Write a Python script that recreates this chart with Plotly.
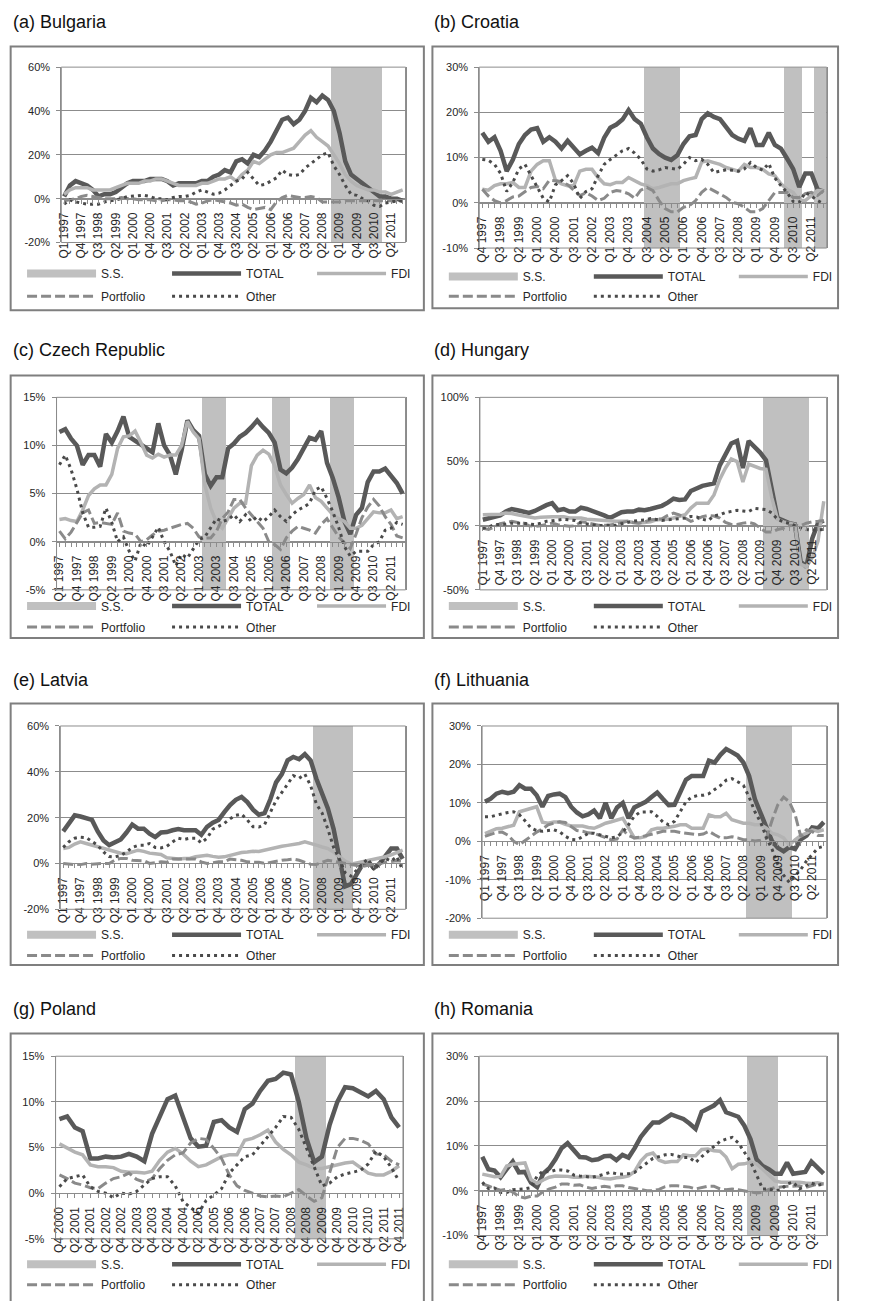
import plotly.graph_objects as go

W, H = 879, 1301
FONT = "Liberation Sans, Arial, sans-serif"

# ---------------- categories ----------------
QUARTERS = [
    "Q1 1997", "Q2 1997", "Q3 1997", "Q4 1997", "Q1 1998", "Q2 1998", "Q3 1998", "Q4 1998",
    "Q1 1999", "Q2 1999", "Q3 1999", "Q4 1999", "Q1 2000", "Q2 2000", "Q3 2000", "Q4 2000",
    "Q1 2001", "Q2 2001", "Q3 2001", "Q4 2001", "Q1 2002", "Q2 2002", "Q3 2002", "Q4 2002",
    "Q1 2003", "Q2 2003", "Q3 2003", "Q4 2003", "Q1 2004", "Q2 2004", "Q3 2004", "Q4 2004",
    "Q1 2005", "Q2 2005", "Q3 2005", "Q4 2005", "Q1 2006", "Q2 2006", "Q3 2006", "Q4 2006",
    "Q1 2007", "Q2 2007", "Q3 2007", "Q4 2007", "Q1 2008", "Q2 2008", "Q3 2008", "Q4 2008",
    "Q1 2009", "Q2 2009", "Q3 2009", "Q4 2009", "Q1 2010", "Q2 2010", "Q3 2010", "Q4 2010",
    "Q1 2011", "Q2 2011", "Q3 2011", "Q4 2011",
]
FROM_Q1_1997 = QUARTERS
FROM_Q4_1997 = QUARTERS[3:]
FROM_Q4_2000 = QUARTERS[15:]

SERIES_NAMES = ["S.S.", "TOTAL", "FDI", "Portfolio", "Other"]

# ---------------- (a) Bulgaria ----------------
BG_TOTAL = [1, 6, 8, 7, 6, 4, 1, 2, 2, 3, 5, 7, 8, 8, 8, 9, 9, 9, 8, 6,
            7, 7, 7, 7, 8, 8, 10, 11, 13, 12, 17, 18, 16, 20, 19, 22, 26, 31, 36, 37,
            34, 36, 40, 46, 44, 47, 45, 40, 30, 17, 11, 9, 7, 5, 3, 1, 1, 0, 0, -1]
BG_FDI = [2, 4, 5, 5, 5, 4, 4, 4, 4, 5, 6, 7, 7, 7, 8, 8, 9, 9, 8, 7,
          6, 6, 6, 6, 7, 7, 8, 9, 9, 10, 8, 11, 13, 17, 16, 18, 20, 21, 21, 22,
          23, 26, 29, 31, 28, 26, 24, 20, 16, 11, 8, 6, 5, 4, 4, 3, 3, 2, 3, 4]
BG_PORTFOLIO = [-1, -0.5, 0, 1, 1.5, 1, 0.5, 0, 0, 0, 0.5, 0, 0, -0.5, -0.5, -0.5, -1, -1, -0.5, -0.5,
                -1, -1, -1.5, -2.5, -2, -1, -0.5, -1, -1.5, -2, -3, -2.5, -4, -5, -4.5, -4, -5, -1.5, 0.5, 1.5,
                1, 0.5, 0.5, 1, 0.5, -1.5, -1.5, -1.5, -1.5, -1, -1, -1, -1, -1, -1, -1, -1, -1, -1, -1]
BG_OTHER = [-2.5, -0.5, -1.5, -2, -2.5, -2.5, -2.5, -1.5, -1, -0.5, 0, 1, 1.2, 1.5, 1.5, 1, 0, 0, -0.5, 0.5,
            1, 1, 1.5, 3, 4, 3, 2, 2.5, 4, 6, 8, 9, 12, 9, 6, 6.5, 8, 9.5, 13, 11,
            10.5, 11, 14, 16, 18, 20, 21, 15, 11, 6, 2, 1.5, 0, -1, -3, -3.5, -2, -1.5, -1, -1]
BG_SS = ["Q4 2008", "Q1 2009", "Q2 2009", "Q3 2009", "Q4 2009", "Q1 2010", "Q2 2010", "Q3 2010", "Q4 2010"]

# ---------------- (b) Croatia ----------------
HR_TOTAL = [15.5, 13.5, 14.5, 11.5, 7, 9.5, 13, 15, 16.2, 16.5, 13.5, 14.5, 13.5, 12, 13.7, 12.2, 10.7, 11.5, 12.2, 11,
            14.4, 16.6, 17.3, 18.4, 20.5, 18.5, 17.5, 14.5, 12, 10.8, 10, 9.5, 10.5, 13, 14.7, 15, 18.5, 19.8, 19, 18.5,
            16.6, 15, 14.2, 13.7, 16.5, 12.8, 12.8, 15.5, 12.8, 12, 9.8, 7.5, 3.5, 6.5, 6.5, 3, 2.5]
HR_FDI = [3, 2.8, 3.8, 4.2, 4.2, 4.5, 3.4, 3.4, 7, 8.5, 9.3, 9.3, 5, 4.2, 3.8, 3.8, 7, 7.4, 7.4, 5.6,
          4.2, 4, 4.5, 4.5, 5.6, 4.9, 4.2, 3.8, 3.1, 3.4, 3.8, 4.2, 4.2, 4.9, 5.3, 5.6, 9, 9.3, 8.9, 8.5,
          7.8, 7.4, 7, 8.5, 7.8, 7.8, 7.4, 6.4, 6, 4.2, 3, 2.3, 0.5, 0.5, 1.6, 2.7, 2.7]
HR_PORTFOLIO = [3, 1.5, 0.5, 0, 0.5, 1.3, 1.5, 2.5, 3.4, 3.6, 3.1, 5, 4.9, 4.7, 4, 2.8, 1.6, 2.2, 1.5, 0.5,
                1, 2.3, 2.7, 2.5, 2, 1, 2.8, 3.4, 2.7, 0.5, -1.3, -2, -2, -1, -0.6, 0.5, 2.3, 3.4, 2.7, 2,
                1.2, 0.1, -0.2, -1, -2, -2, -1.3, 0.5, 2.3, 2.3, 2.3, 1.2, 1.2, 2, 2.3, 1.6, 2.7]
HR_OTHER = [9.6, 9.4, 8.5, 6.5, 2.5, 4.5, 7.5, 8.5, 6, 3.5, 1, 0.2, 4, 4.9, 6, 4.2, 1, 2.5, 3.1, 6,
            8.5, 9.6, 10.5, 11.5, 12, 11, 9.6, 7.5, 7, 7.3, 7.8, 7.6, 7.4, 8.5, 10, 9.3, 9.6, 8.5, 6.7, 7,
            7.3, 7.2, 7, 7.5, 8.9, 7.8, 7.2, 8.7, 5.5, 3.8, 2.3, 0.3, 0.1, 2.3, 1.5, 0.5, -0.2]
HR_SS = ["Q3 2004", "Q4 2004", "Q1 2005", "Q2 2005", "Q3 2005", "Q4 2005",
         "Q2 2010", "Q3 2010", "Q4 2010", "Q3 2011", "Q4 2011"]

# ---------------- (c) Czech Republic ----------------
CZ_TOTAL = [11.4, 11.7, 10.7, 10, 8, 9, 9, 7.8, 11.2, 10.3, 11.5, 13, 10.9, 10.5, 10.2, 9.7, 9.3, 12.3, 10, 9,
            7, 9.5, 12.6, 11.6, 11, 7, 5.8, 6.7, 6.7, 9.7, 10.2, 10.9, 11.3, 11.9, 12.6, 11.9, 11.3, 10.3, 7.5, 7.1,
            7.7, 8.6, 9.8, 10.8, 10.6, 11.5, 8.2, 6.6, 4.6, 2.1, 0.8, 2.8, 3.5, 6.2, 7.3, 7.3, 7.6, 6.9, 6.1, 5]
CZ_FDI = [2.3, 2.4, 2.2, 2.1, 3.3, 4.8, 5.5, 5.9, 5.9, 7, 9.7, 10.9, 11, 11.5, 10.3, 9, 8.7, 9.1, 8.8, 9,
          9, 10, 12.5, 11.4, 10.7, 5.9, 3.5, 2, 1.4, 2.4, 3.5, 4, 4, 7.9, 9, 9.5, 9.1, 7.9, 5.9, 4.9,
          4, 4.5, 4.9, 5.9, 4.6, 4.2, 3.5, 2.8, 2.4, 2.1, 1.4, 1.4, 1.7, 2.4, 3.1, 3, 3, 3.3, 2.4, 2.6]
CZ_PORTFOLIO = [1.1, 0.3, 1, 2, 3, 3.3, 1.9, 2, 1.9, 1.8, 3, 1.1, 0.9, 0.8, 0, 0.2, 0.7, 1.1, 1.2, 1.4,
                1.6, 1.8, 1.9, 1.4, 0.5, 0.4, 0.4, 1.1, 2.4, 3.1, 4.4, 4.4, 3.5, 2.8, 2.2, 1.4, 0, -0.3, -0.8, 0.4,
                1.1, 1.6, 1.4, 1.2, 0.9, 1.8, 2.4, 1.5, 0.5, -0.1, -0.7, 0.8, 2.5, 3.6, 4.4, 3.7, 2.6, 1.8, 0.6, 0.4]
CZ_OTHER = [8, 9, 7.5, 5.5, 3, 1.5, 1.5, 1.6, 3.5, 2, 0, 0.5, -1, -2, -0.1, -0.5, 0.5, 1.5, 0, -1,
            -2.5, -1.3, -1.7, -0.7, 0.2, 0.5, 1.4, 2.4, 2.1, 2.3, 2.8, 2.1, 2.8, 2.1, 2.6, 2.1, 2.6, 3.3, 2.6, 2.1,
            2.8, 3.3, 3.6, 4, 5.4, 5.7, 4.5, 3.1, 1.5, -0.5, -1.5, -1, -1, -1, -0.3, 0, 1.2, 1.4, 2, 1.8]
CZ_SS = ["Q2 2003", "Q3 2003", "Q4 2003", "Q1 2004",
         "Q2 2006", "Q3 2006", "Q4 2006",
         "Q4 2008", "Q1 2009", "Q2 2009", "Q3 2009"]

# ---------------- (d) Hungary ----------------
HU_TOTAL = [4.6, 6, 7, 8, 11, 13, 12, 11, 10, 11.5, 14, 16, 17.5, 12, 13, 11, 11, 14, 13, 11.5,
            10, 8, 6, 8, 10.5, 11, 11, 12.5, 12, 13, 14, 15.5, 18, 21, 20, 20.5, 27, 29, 31, 32,
            33, 47, 55, 64, 66, 45, 66, 62, 57, 51, 28, 6, 4, 2, 1, -28, -32, -10, 2, 4]
HU_FDI = [8.5, 8.5, 8.5, 9, 9.8, 9.5, 8.5, 7.5, 7, 6, 6.5, 7, 7, 7, 7, 6, 6, 6, 5, 4.6,
          4.6, 4, 3.4, 3.4, 3.4, 3.4, 2.5, 2.1, 2.5, 3, 4.6, 4.6, 5, 6, 7, 8.5, 13.7, 17.5, 17.5, 17.5,
          24, 36, 45, 52, 50, 34, 48, 46, 44.6, 44, 22, 5, 3, 2, 1, -30, -32, -25, -12, 19]
HU_PORTFOLIO = [-2, -3, -1, 1.5, 2.5, 3.4, 2.5, 2, 0, -0.5, 0, 1, 2, 0.8, 0, -0.5, 0, 3, 2.5, 1.5,
                0.3, 0.3, 0.5, 1.3, 2.5, 3.4, 2.5, 2, 3, 4.6, 5, 5.4, 8, 9.8, 8.5, 6, 3.4, 5, 7, 8,
                7.5, 6, 2.5, 1, 1, 2, 2.6, 1.5, -1.5, -5, -5, -3, -2, 0, 0.3, 0, 2, 3, 3.4, 4]
HU_OTHER = [-2, -1, 0.8, 1, 1.3, 2, 2, 2, 1.2, 0.8, 2, 3.4, 3.9, 4.5, 5, 4.5, 4, 2, 1.5, 0.8,
            0, 0.3, 0.3, 0.3, 1.5, 2.8, 3.5, 4.1, 4.4, 5.5, 5, 4.1, 4.6, 5.2, 5.8, 6, 7.2, 6.8, 5, 4,
            7.7, 8.5, 10.3, 11, 12, 11.5, 11, 13.5, 13, 12.5, 10, 5, 3, 2, 0, -1.5, -3, -3.5, -3.5, -3]
HU_SS = ["Q2 2009", "Q3 2009", "Q4 2009", "Q1 2010", "Q2 2010", "Q3 2010", "Q4 2010", "Q1 2011"]

# ---------------- (e) Latvia ----------------
LV_TOTAL = [14, 17.5, 21, 20.5, 19.5, 19, 14, 10, 8, 9.5, 10.5, 13.5, 17, 15.2, 15.2, 13, 11.5, 13.5, 13.7, 14.5,
            15, 14.5, 14.5, 14.5, 12.5, 16, 17.8, 19, 22.4, 25.5, 27.8, 29, 26.8, 23.5, 21.3, 22, 28, 35.4, 39, 45,
            46.5, 45.5, 47.7, 45, 37, 31, 24, 15, 2, -10, -9, -5, -0.5, 0.7, -2, 0, 3, 6.5, 6.5, 2]
LV_FDI = [6.5, 7, 8.5, 9.4, 8.7, 8, 7.2, 6.5, 5.8, 5, 4.5, 4.3, 5.2, 5.8, 5.3, 4.5, 4.2, 3.9, 2.5, 2.2,
          2, 2.2, 2.2, 2.9, 3.3, 3.6, 3.1, 2.7, 2.9, 3.5, 4.3, 4.8, 5, 5.3, 5.2, 5.8, 6.5, 7, 7.5, 7.9,
          8.2, 8.7, 9.4, 8.8, 8, 7.2, 6.5, 5, 3, 1, -0.3, 0.2, 0.8, 1.2, 1.6, 2.2, 2.9, 3.8, 4.9, 5.8]
LV_PORTFOLIO = [0, -0.3, -0.5, -0.5, 0, -0.3, 0, 0, 0, 1.5, 2.2, 2.2, 1.4, 1.4, 1.2, 0, 0.5, 0.7, 0.5, 1.9,
                1.9, 1.9, 1.9, 1.9, 0.7, 0, 0.3, 0.7, 0.7, 1.9, 1.6, 1.4, 0.7, 0.7, 0.5, 0, 0.5, 0.7, 1.4, 1.6,
                1.9, 1.4, 0.5, -0.3, -0.4, 0.5, 1.4, 1, 0.5, 0, -0.7, -1.1, -1.4, -0.8, -0.5, 0, 0.5, 1, 1.2, 1]
LV_OTHER = [7, 9.5, 11, 11.5, 11.3, 9.5, 7.9, 5, 3, 2.9, 3.5, 5, 7, 7.9, 7.9, 8.7, 7, 6.8, 7.5, 9.4,
            11, 10.5, 11, 11, 9, 11, 15, 16.2, 17.5, 19.5, 21, 21.5, 19, 16, 15.9, 17, 22, 27.5, 31, 34.5,
            38.3, 37.2, 39, 34, 26, 22, 15, 7, 2, -4, -5.5, -3, 0, 2, -2.9, 0, 2.2, 1, 3, -3]
LV_SS = ["Q1 2008", "Q2 2008", "Q3 2008", "Q4 2008", "Q1 2009", "Q2 2009", "Q3 2009"]

# ---------------- (f) Lithuania ----------------
LT_TOTAL = [10.3, 11.1, 12.4, 12.9, 12.5, 12.9, 14.6, 13.7, 13.7, 12, 9, 11.8, 12.2, 12.4, 11.5, 9, 7.5, 6.5, 7, 8,
            6, 10, 6, 8.8, 10, 6, 8.8, 9.5, 10.3, 11.5, 12.7, 11, 9.4, 9.5, 12.9, 16, 17, 17.1, 17, 21,
            20.5, 22.5, 24, 23.2, 22.3, 20.5, 17, 11, 7.5, 3.5, 0, -1.7, -2.6, -1.5, -2, 0.5, 1.5, 3.6, 3.4, 5]
LT_FDI = [2, 2.6, 3.3, 3.4, 3.7, 4.2, 7.7, 8.1, 8.6, 9, 5, 4.7, 5, 5, 4.4, 4, 4, 4, 3.6, 3.4,
          4, 4.7, 5.1, 5.6, 6, 3.5, 0.9, 0.9, 1.3, 3, 3.4, 3.4, 3.6, 3.9, 4.3, 4.3, 3.4, 3.4, 3.4, 6.9,
          6.4, 6.4, 7.3, 5.6, 5.1, 4.7, 4.7, 4.3, 4.3, 3.4, 2.1, 1.7, 0.9, -1, 0.4, 1.5, 2.1, 3, 2.6, 3]
LT_PORTFOLIO = [1.3, 1.7, 2.3, 2.4, 1.6, 0, -0.9, 0.2, 1.3, 2.4, 3.2, 4.3, 4.7, 5.1, 4.9, 3.8, 2.8, 2.6, 2.2, 2.1,
                1.5, 0.9, 0.4, 0.6, 3, 1.5, 0.9, 1.1, 1.5, 2, 2.4, 2.6, 2.6, 2.6, 2.3, 2.1, 1.8, 1.7, 1.9, 2.6,
                1.7, 0.9, 0.9, 1.2, 0.9, 0.4, 0.4, 0.1, 0.3, 0.8, 5.5, 9.5, 11.5, 10.3, 7, 1.2, 3, 2.5, 1.5, 1.5]
LT_OTHER = [6.4, 6.4, 6.8, 7.2, 7.5, 7.7, 6.9, 5.3, 3.5, 2.8, 2.6, 2.8, 3, 2.5, 1.3, 0.5, 0.4, 1.2, 2.1, 2.1,
            1.7, 1.2, 0.9, 1.2, 2.4, 4.3, 6.5, 7.6, 7.7, 7.7, 6.5, 5, 4.3, 5.2, 7.7, 10.3, 11.5, 11.9, 12, 12.4,
            13.5, 14.5, 15.9, 16.3, 15.5, 14.6, 11.5, 7.7, 5, 1, -2.1, -6, -8.8, -10.7, -9, -7.3, -5.1, -3.4, -1.7, -1.3]
LT_SS = ["Q3 2008", "Q4 2008", "Q1 2009", "Q2 2009", "Q3 2009", "Q4 2009", "Q1 2010", "Q2 2010"]

# ---------------- (g) Poland ----------------
PL_TOTAL = [8.1, 8.4, 7.2, 6.8, 3.8, 3.8, 4, 3.9, 4, 4.3, 4, 3.5, 6.5, 8.5, 10.3, 10.7, 8.3, 6, 5.1, 5.2,
            7.8, 8, 7.2, 6.7, 9.2, 9.8, 11.2, 12.3, 12.5, 13.2, 13, 10, 6, 3.4, 4, 7.5, 10, 11.6, 11.5, 11,
            10.6, 11.2, 10.3, 8.3, 7.2]
PL_FDI = [5.4, 4.9, 4.5, 4.2, 3.1, 2.9, 2.9, 2.8, 2.4, 2.3, 2.3, 2.2, 2.4, 3.6, 4.5, 4.9, 4.3, 3.5, 2.9, 3.1,
          3.5, 4, 4.2, 4.2, 5.8, 6, 6.4, 6.9, 5.6, 4.8, 4.2, 3.4, 3.1, 2.7, 2.7, 2.9, 3.1, 3.3, 3.4, 2.8,
          2.2, 2, 2, 2.4, 3]
PL_PORTFOLIO = [2, 1.6, 1.1, 0.9, 0.6, 0.5, 1.1, 1.6, 1.8, 2.2, 1.5, 1.2, 1.6, 2.7, 3.6, 4.2, 4.4, 5.5, 6, 5.9,
                4.9, 3.8, 2, 0.8, 0.3, 0, -0.3, -0.4, -0.3, -0.4, 0, 0.4, -0.3, -0.9, -0.5, 2.3, 5, 6, 6, 5.8,
                5.4, 4.3, 4.2, 3.5, 3.1]
PL_OTHER = [0.7, 1.6, 1.8, 2, 0.7, 0.2, 0, -0.5, 0, -0.1, 0.2, 0.9, 1.6, 1.8, 1.8, 0.8, -0.9, -1.6, -2.2, -0.8,
            -0.2, 0.5, 2.2, 3.1, 4, 4.2, 5.2, 6.2, 7.2, 8.4, 8.3, 7, 4.9, 2.7, 0.8, 1.1, 1.8, 2.1, 2.3, 2.5,
            3.2, 4.6, 4, 2.8, 1.3]
PL_SS = ["Q3 2008", "Q4 2008", "Q1 2009", "Q2 2009"]

# ---------------- (h) Romania ----------------
RO_TOTAL = [7.6, 4.8, 4.5, 3, 4.8, 6.5, 4.1, 4.2, 1.8, 0.8, 3.8, 5, 7, 9.5, 10.6, 9, 7.5, 7.4, 6.8, 7,
            7.7, 7.8, 6.8, 8, 7.4, 9.5, 12, 13.7, 15.2, 15.2, 16, 17, 16.5, 16, 15, 13.8, 17.6, 18.2, 19, 20.2,
            17.5, 17, 16.5, 14.5, 11.5, 7, 5.5, 4.8, 3.8, 3.8, 6.3, 3.8, 4, 4.2, 6.5, 5.2, 3.8]
RO_FDI = [3.7, 3.3, 3.1, 3.2, 5.5, 5.9, 6, 6.2, 2.5, 1.6, 2.4, 3, 3.3, 3.3, 3.2, 3, 3, 3.2, 3.1, 3,
          2.7, 2.6, 2.9, 3, 3.3, 4.3, 6.6, 8, 8.4, 6.8, 6.3, 6.5, 6.5, 8, 7.8, 7.8, 9.2, 9.3, 8.9, 8.8,
          7.5, 4.9, 5.9, 6, 6.4, 6, 4.8, 3.5, 2.2, 1.9, 1.9, 1.9, 1.9, 1.7, 1.6, 1.8, 1.5]
RO_PORTFOLIO = [1.5, 1.1, 0.5, 0.1, 0.3, -0.3, -1.3, -1.6, -1.2, -1.2, -0.2, 0.4, 0.8, 1.5, 1.5, 1.2, 1.3, 0.8, 0.5, 0.7,
                1, 0.8, 1.1, 1.1, 0.7, 0.5, 0.3, 0, 0, 0.3, 0.9, 1.1, 1.1, 1, 0.8, 0.4, 0.7, 1, 1, 0.4,
                0.2, 0.4, 0.2, 0, -0.2, -0.5, -0.4, 0.3, 0.7, 0.9, 1, 1, 1.1, 0.7, 1.1, 1.5, 1.5]
RO_OTHER = [1.9, 0.5, 0.6, -0.4, -0.4, 0.2, 0.3, 0.4, 0.7, 3.3, 4.4, 4.2, 4.6, 4.6, 4.4, 3.5, 3.3, 3.2, 3, 3.3,
            3.7, 4.1, 3.8, 3.7, 3.8, 4.1, 5.2, 6.3, 7.2, 7.6, 8, 8.1, 7.8, 7.4, 7.4, 6.3, 7.6, 8.7, 9.9, 11,
            11.5, 11.9, 10.7, 8.5, 6.5, 3.5, 0.4, 0.4, 0, 0.2, 1.5, 1.9, 0.4, 1, 1.7, 1.2, 1.5]
RO_SS = ["Q4 2008", "Q1 2009", "Q2 2009", "Q3 2009", "Q4 2009"]

# ---------------- y-axis ticks ----------------
TICKS_M20_60 = [-20, 0, 20, 40, 60]
TICKS_M10_30 = [-10, 0, 10, 20, 30]
TICKS_M5_15 = [-5, 0, 5, 10, 15]
TICKS_M50_100 = [-50, 0, 50, 100]
TICKS_M20_30 = [-20, -10, 0, 10, 20, 30]

PANELS = [
    dict(title="(a) Bulgaria", cats=FROM_Q1_1997, step=3, total=BG_TOTAL, fdi=BG_FDI, port=BG_PORTFOLIO, other=BG_OTHER, ss=BG_SS, yt=TICKS_M20_60),
    dict(title="(b) Croatia", cats=FROM_Q4_1997, step=3, total=HR_TOTAL, fdi=HR_FDI, port=HR_PORTFOLIO, other=HR_OTHER, ss=HR_SS, yt=TICKS_M10_30),
    dict(title="(c) Czech Republic", cats=FROM_Q1_1997, step=3, total=CZ_TOTAL, fdi=CZ_FDI, port=CZ_PORTFOLIO, other=CZ_OTHER, ss=CZ_SS, yt=TICKS_M5_15),
    dict(title="(d) Hungary", cats=FROM_Q1_1997, step=3, total=HU_TOTAL, fdi=HU_FDI, port=HU_PORTFOLIO, other=HU_OTHER, ss=HU_SS, yt=TICKS_M50_100),
    dict(title="(e) Latvia", cats=FROM_Q1_1997, step=3, total=LV_TOTAL, fdi=LV_FDI, port=LV_PORTFOLIO, other=LV_OTHER, ss=LV_SS, yt=TICKS_M20_60),
    dict(title="(f) Lithuania", cats=FROM_Q1_1997, step=3, total=LT_TOTAL, fdi=LT_FDI, port=LT_PORTFOLIO, other=LT_OTHER, ss=LT_SS, yt=TICKS_M20_30),
    dict(title="(g) Poland", cats=FROM_Q4_2000, step=2, total=PL_TOTAL, fdi=PL_FDI, port=PL_PORTFOLIO, other=PL_OTHER, ss=PL_SS, yt=TICKS_M5_15),
    dict(title="(h) Romania", cats=FROM_Q4_1997, step=3, total=RO_TOTAL, fdi=RO_FDI, port=RO_PORTFOLIO, other=RO_OTHER, ss=RO_SS, yt=TICKS_M10_30),
]

# ---------------- layout geometry (pixels) ----------------
# plot area: (left, right, top, bottom); box: (left, right, top, bottom); title (x, y); legend rows y; legend x
GEOM = [
    dict(plot=(60.3, 422.7, 61.7, 238.7), box=(7, 442, 41, 307), title=(7, 16), rows=(270, 293), lx=19),
    dict(plot=(500.3, 866, 61.7, 244.3), box=(451, 878, 41, 305), title=(451, 16), rows=(273, 293), lx=463),
    dict(plot=(55.3, 422.7, 395, 589.3), box=(7, 442, 373, 638), title=(7, 347), rows=(605.7, 626.7), lx=19),
    dict(plot=(501, 866, 395, 589.3), box=(451, 878, 373, 638), title=(451, 347), rows=(605.7, 626.7), lx=463),
    dict(plot=(59.3, 422.7, 726.7, 911.7), box=(7, 442, 704, 968), title=(7, 680), rows=(937.3, 958.3), lx=19),
    dict(plot=(503.3, 866, 726.7, 920.7), box=(451, 878, 704, 968), title=(451, 680), rows=(937.3, 958.3), lx=463),
    dict(plot=(54.3, 420, 1060, 1244.3), box=(7, 442, 1037, 1320), title=(7, 1012), rows=(1270, 1290.7), lx=19),
    dict(plot=(500.3, 866, 1060, 1241), box=(451, 878, 1037, 1320), title=(451, 1012), rows=(1270, 1290.7), lx=463),
]

C_SS = "#c0c0c0"
C_TOTAL = "#595959"
C_FDI = "#b3b3b3"
C_PORT = "#8a8a8a"
C_OTHER = "#4a4a4a"
C_AXIS = "#8c8c8c"
C_TEXT = "#262626"


def px_x(v):
    return v / W


def px_y(v):
    return 1 - v / H


fig = go.Figure()
layout = dict(
    width=W, height=H, margin=dict(l=0, r=0, t=0, b=0),
    paper_bgcolor="white", plot_bgcolor="white",
    bargap=0, showlegend=True,
    font=dict(family=FONT, color=C_TEXT),
)
shapes = []
annotations = []

for k, (p, g) in enumerate(zip(PANELS, GEOM), start=1):
    s = "" if k == 1 else str(k)
    xa, ya = "x" + s, "y" + s
    cats = p["cats"]
    n = len(cats)
    for key in ("total", "fdi", "port", "other"):
        assert len(p[key]) == n, (p["title"], key, len(p[key]), n)
    ymin, ymax = p["yt"][0], p["yt"][-1]
    leg1 = "legend" if k == 1 else "legend%d" % (2 * k - 1)
    leg2 = "legend%d" % (2 * k)

    # shaded S.S. periods: full-height columns
    fig.add_trace(go.Bar(
        x=p["ss"], y=[ymax - ymin] * len(p["ss"]), base=ymin,
        marker=dict(color=C_SS, line=dict(width=0)),
        showlegend=False, hoverinfo="skip", xaxis=xa, yaxis=ya,
    ))
    fig.add_trace(go.Scatter(
        x=[None], y=[None], mode="lines", name=SERIES_NAMES[0],
        line=dict(color=C_SS, width=8), legend=leg1, xaxis=xa, yaxis=ya,
    ))
    fig.add_trace(go.Scatter(
        x=cats, y=p["total"], mode="lines", name=SERIES_NAMES[1],
        line=dict(color=C_TOTAL, width=4.5), legend=leg1, xaxis=xa, yaxis=ya,
    ))
    fig.add_trace(go.Scatter(
        x=cats, y=p["fdi"], mode="lines", name=SERIES_NAMES[2],
        line=dict(color=C_FDI, width=3.5), legend=leg1, xaxis=xa, yaxis=ya,
    ))
    fig.add_trace(go.Scatter(
        x=cats, y=p["port"], mode="lines", name=SERIES_NAMES[3],
        line=dict(color=C_PORT, width=3, dash="10px,4px"), legend=leg2, xaxis=xa, yaxis=ya,
    ))
    fig.add_trace(go.Scatter(
        x=cats, y=p["other"], mode="lines", name=SERIES_NAMES[4],
        line=dict(color=C_OTHER, width=3, dash="3px,4px"), legend=leg2, xaxis=xa, yaxis=ya,
    ))

    l, r, t, b = g["plot"]
    xdom = [px_x(l), px_x(r)]
    ydom = [px_y(b), px_y(t)]
    zero_pos = ydom[0] + (0 - ymin) / (ymax - ymin) * (ydom[1] - ydom[0])
    ticktext = [c if i % p["step"] == 0 else "" for i, c in enumerate(cats)]

    layout["xaxis" + s] = dict(
        domain=xdom, type="category", categoryorder="array", categoryarray=cats,
        range=[-0.5, n - 0.5], anchor="free", position=zero_pos,
        showgrid=False, zeroline=False, showline=True, linecolor=C_AXIS, linewidth=1,
        ticks="outside", ticklen=4, tickcolor=C_AXIS, tickwidth=1,
        tickmode="array", tickvals=cats, ticktext=ticktext, tickangle=-90,
        tickfont=dict(family=FONT, size=12, color=C_TEXT), ticklabelstandoff=4,
        fixedrange=True,
    )
    layout["yaxis" + s] = dict(
        domain=ydom, anchor=xa, range=[ymin, ymax],
        tickmode="array", tickvals=p["yt"], ticktext=["%d%%" % v for v in p["yt"]],
        showgrid=True, gridcolor=C_AXIS, gridwidth=1, zeroline=False,
        showline=True, mirror=True, linecolor=C_AXIS, linewidth=1,
        ticks="outside", ticklen=4, tickcolor=C_AXIS,
        tickfont=dict(family=FONT, size=11, color=C_TEXT), ticklabelstandoff=4,
        fixedrange=True,
    )
    # plot-area border
    shapes.append(dict(type="rect", xref=xa + " domain", yref=ya + " domain", x0=0, x1=1, y0=0, y1=1,
                       line=dict(color=C_AXIS, width=1), fillcolor="rgba(0,0,0,0)", layer="above"))
    # panel box
    bl, br, bt, bb = g["box"]
    shapes.append(dict(type="rect", xref="paper", yref="paper",
                       x0=px_x(bl), x1=px_x(br), y0=px_y(bb), y1=px_y(bt),
                       line=dict(color="#7f7f7f", width=2), fillcolor="rgba(0,0,0,0)"))
    # title
    tx, ty = g["title"]
    annotations.append(dict(text=p["title"], xref="paper", yref="paper", x=px_x(tx), y=px_y(ty),
                            xanchor="left", yanchor="middle", showarrow=False,
                            font=dict(family=FONT, size=18, color="#111111")))
    # legends (two rows)
    for leg, ry in ((leg1, g["rows"][0]), (leg2, g["rows"][1])):
        layout[leg] = dict(
            orientation="h", x=px_x(g["lx"]), y=px_y(ry), xanchor="left", yanchor="middle",
            xref="paper", yref="paper", itemwidth=69, entrywidth=61, entrywidthmode="pixels",
            bgcolor="rgba(0,0,0,0)", borderwidth=0, traceorder="normal",
            font=dict(family=FONT, size=12, color=C_TEXT), itemclick=False, itemdoubleclick=False,
        )

layout["shapes"] = shapes
layout["annotations"] = annotations
fig.update_layout(**layout)
fig.write_html("out.html")
